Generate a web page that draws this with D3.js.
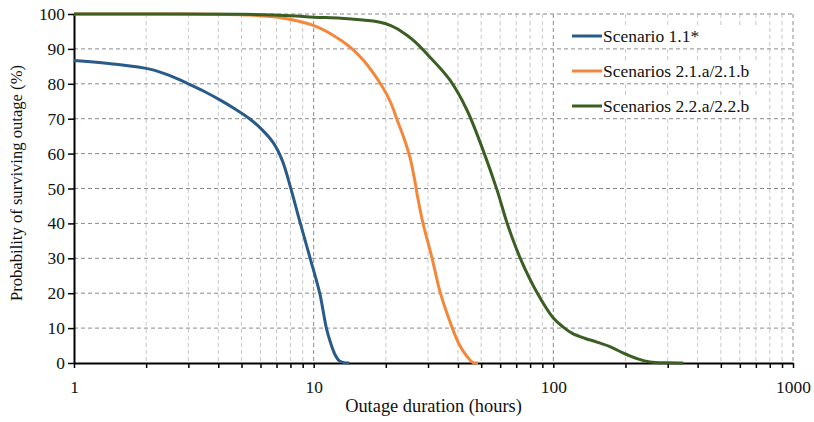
<!DOCTYPE html>
<html>
<head>
<meta charset="utf-8">
<script src="https://cdn.jsdelivr.net/npm/d3@7"></script>
<style>
  body { margin: 0; background: #fff; }
  text { font-family: "Liberation Serif", "Times New Roman", serif; fill: #111; }
</style>
</head>
<body>
<svg width="814" height="422"></svg>
<script>
var seriesNames = ["Scenario 1.1*", "Scenarios 2.1.a/2.1.b", "Scenarios 2.2.a/2.2.b"];
var seriesColors = ["#285a8a", "#f4873a", "#3b5e23"];

// outage duration (hours) and survival probability (%)
var blueHours = [1, 1.5, 2.07, 2.5, 3, 3.5, 4.06, 4.7, 5.4, 6.1, 6.8, 7.4, 8.0, 8.8, 9.67, 10.6, 11.3, 11.8, 12.3, 12.8, 13.4, 14.1];
var blueProb  = [86.7, 85.6, 84.2, 82.4, 80, 77.8, 75.4, 72.8, 70, 66.8, 63, 58, 50.4, 40, 30, 20, 10, 5.5, 2.3, 0.6, 0.1, 0];

var orangeHours = [1, 3, 4, 5.43, 7.5, 9.9, 12, 14.2, 16.1, 19.4, 21, 22.3, 23.8, 25.2, 26.3, 27.3, 28.6, 31.2, 33.8, 37.9, 40.7, 43.5, 46.1, 48.5];
var orangeProb  = [100, 100, 99.9, 99.7, 98.8, 96.8, 94, 90.5, 86.8, 79, 74.5, 69.6, 64.5, 59, 53, 46.7, 40, 30, 20, 10, 5, 2, 0.2, 0];

var greenHours = [1, 5, 8, 10, 13, 16, 18, 20, 22, 24.5, 26.5, 30.5, 37, 43.6, 50.9, 58.2, 64.2, 72.8, 85.8, 100, 110, 120, 135, 152, 175, 195, 225, 253, 300, 348];
var greenProb  = [100, 99.9, 99.5, 99.1, 98.8, 98.3, 97.9, 97.2, 96, 93.9, 92, 87.7, 81.1, 72.5, 61, 49.6, 40, 30, 20, 12.9, 10.3, 8.5, 7.1, 6.0, 4.5, 2.9, 1.2, 0.3, 0.05, 0];

var yTicks = [0, 10, 20, 30, 40, 50, 60, 70, 80, 90, 100];
var xTicks = [1, 10, 100, 1000];

var svg = d3.select("svg"),
    margin = {left: 74, right: 21, top: 14, bottom: 59},
    width = 814 - margin.left - margin.right,
    height = 422 - margin.top - margin.bottom,
    g = svg.append("g").attr("transform", "translate(" + margin.left + "," + margin.top + ")");

var x = d3.scaleLog().domain([1, 1000]).range([0, width]);
var y = d3.scaleLinear().domain([0, 100]).range([height, 0]);

// minor positions on log axis
var minorTicks = [];
[1, 10, 100].forEach(function(d) {
  for (var k = 2; k <= 9; k++) minorTicks.push(d * k);
});

// vertical grid
g.selectAll(".vminor").data(minorTicks).enter().append("line")
  .attr("x1", d => x(d)).attr("x2", d => x(d))
  .attr("y1", 0).attr("y2", height)
  .attr("stroke", "#c8c8c8").attr("stroke-width", 1).attr("stroke-dasharray", "4,3");
g.selectAll(".vmajor").data([10, 100, 1000]).enter().append("line")
  .attr("x1", d => x(d)).attr("x2", d => x(d))
  .attr("y1", 0).attr("y2", height)
  .attr("stroke", "#8a8a8a").attr("stroke-width", 1).attr("stroke-dasharray", "4,3");

// horizontal grid
g.selectAll(".hgrid").data(yTicks.slice(1)).enter().append("line")
  .attr("x1", 0).attr("x2", width)
  .attr("y1", d => y(d)).attr("y2", d => y(d))
  .attr("stroke", "#8a8a8a").attr("stroke-width", 1).attr("stroke-dasharray", "4,3");

// axes
var xAxis = d3.axisBottom(x)
  .tickValues(xTicks.concat(minorTicks))
  .tickFormat(d => xTicks.indexOf(d) >= 0 ? d : "")
  .tickSize(5).tickSizeOuter(0).tickPadding(13);
var xg = g.append("g").attr("transform", "translate(0," + height + ")").call(xAxis);

var yAxis = d3.axisLeft(y).tickValues(yTicks).tickSize(6).tickSizeOuter(0).tickPadding(3);
var yg = g.append("g").call(yAxis);

[xg, yg].forEach(function(a) {
  a.select(".domain").attr("stroke", "#000").attr("stroke-width", 2);
  a.selectAll(".tick line").attr("stroke", "#000").attr("stroke-width", 1.5);
  a.selectAll("text").style("font-family", "Liberation Serif").style("font-size", "17.4px").attr("fill", "#111");
});

// lines
var line = d3.line()
  .x(d => x(d[0])).y(d => y(d[1]))
  .curve(d3.curveCatmullRom.alpha(0.5));

var series = [
  d3.zip(blueHours, blueProb),
  d3.zip(orangeHours, orangeProb),
  d3.zip(greenHours, greenProb)
];

g.selectAll(".series").data(series).enter().append("path")
  .attr("d", line)
  .attr("fill", "none")
  .attr("stroke", (d, i) => seriesColors[i])
  .attr("stroke-width", 3)
  .attr("stroke-linejoin", "round");

// legend
var legend = svg.append("g").attr("transform", "translate(572,36)");
seriesNames.forEach(function(name, i) {
  var row = legend.append("g").attr("transform", "translate(0," + (i * 35) + ")");
  row.append("rect").attr("x", 0).attr("y", -11).attr("width", 190).attr("height", 22).attr("fill", "#fff");
  row.append("line").attr("x1", 0).attr("x2", 30).attr("y1", 0).attr("y2", 0)
    .attr("stroke", seriesColors[i]).attr("stroke-width", 3);
  row.append("text").attr("x", 31).attr("y", 6).style("font-size", "17.5px").text(name);
});

// axis titles
svg.append("text")
  .attr("x", margin.left + width / 2).attr("y", 412)
  .attr("text-anchor", "middle").style("font-size", "18.4px")
  .text("Outage duration (hours)");

svg.append("text")
  .attr("transform", "translate(22,183) rotate(-90)")
  .attr("text-anchor", "middle").style("font-size", "16.6px")
  .text("Probability of surviving outage (%)");
</script>
</body>
</html>
